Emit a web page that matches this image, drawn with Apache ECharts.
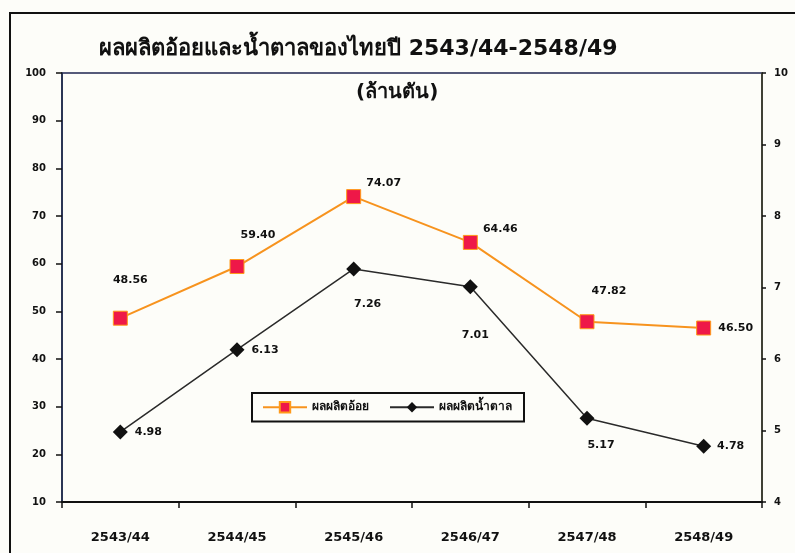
<!DOCTYPE html>
<html>
<head>
<meta charset="utf-8">
<script src="https://cdn.jsdelivr.net/npm/echarts@6/dist/echarts.min.js"></script>
<style>
  html, body { margin: 0; padding: 0; background: #fdfdf9; }
  #main { width: 795px; height: 553px; }
</style>
</head>
<body>
<div id="main"></div>
<script>
// ปีการผลิต
let years = ['2543/44', '2544/45', '2545/46', '2546/47', '2547/48', '2548/49'];
// ผลผลิตอ้อย (ล้านตัน) - แกนซ้าย
let caneValues = [48.56, 59.40, 74.07, 64.46, 47.82, 46.50];
// ผลผลิตน้ำตาล (ล้านตัน) - แกนขวา
let sugarValues = [4.98, 6.13, 7.26, 7.01, 5.17, 4.78];
let caneLabels = ['48.56', '59.40', '74.07', '64.46', '47.82', '46.50'];
let sugarLabels = ['4.98', '6.13', '7.26', '7.01', '5.17', '4.78'];

// ตำแหน่งป้ายตัวเลข (ระยะเลื่อนจากจุด)
let caneOffsets = [[10, -38], [21, -31], [30, -13], [30, -13], [22, -31], [32, 0]];
let sugarOffsets = [[28, 0], [28, 0], [14, 35], [5, 48], [14, 27], [27, 0]];

window.addEventListener('load', function() {
    let myChart = echarts.init(document.getElementById('main'));

    let labelFont = {
        fontFamily: 'DejaVu Sans',
        fontWeight: 'bold',
        fontSize: 11,
        color: '#111'
    };

    function buildData(values, labels, offsets) {
        return values.map(function(v, i) {
            return {
                value: v,
                label: {
                    show: true,
                    position: 'inside',
                    offset: offsets[i],
                    formatter: labels[i]
                }
            };
        });
    }

    let option = {
        backgroundColor: '#fdfdf9',
        animation: false,
        title: [{
            text: 'ผลผลิตอ้อยและน้ำตาลของไทยปี 2543/44-2548/49',
            left: 94,
            top: 33,
            textStyle: {
                fontFamily: 'DejaVu Sans',
                fontWeight: 'bold',
                fontSize: 22,
                color: '#111'
            }
        }, {
            text: '(ล้านตัน)',
            left: 351,
            top: 78,
            textStyle: {
                fontFamily: 'DejaVu Sans',
                fontWeight: 'bold',
                fontSize: 20,
                color: '#111'
            }
        }],
        graphic: [{
            type: 'rect',
            shape: { x: 10, y: 13, width: 820, height: 600 },
            style: { fill: 'none', stroke: '#111', lineWidth: 2 },
            silent: true
        }],
        legend: {
            left: 252,
            top: 393,
            orient: 'horizontal',
            borderColor: '#111',
            borderWidth: 2,
            padding: [8, 12, 8, 10],
            itemGap: 20,
            itemWidth: 44,
            itemHeight: 13,
            textStyle: {
                fontFamily: 'DejaVu Sans',
                fontWeight: 'bold',
                fontSize: 12,
                color: '#111'
            },
            data: ['ผลผลิตอ้อย', 'ผลผลิตน้ำตาล']
        },
        grid: {
            left: 62,
            right: 33,
            top: 73,
            bottom: 51,
            show: true,
            borderColor: '#1e2450',
            borderWidth: 1.5
        },
        xAxis: {
            type: 'category',
            data: years,
            boundaryGap: true,
            axisLine: { lineStyle: { color: '#111', width: 2 } },
            axisTick: { show: true, length: 6, lineStyle: { color: '#111', width: 1.5 } },
            axisLabel: {
                margin: 29,
                fontFamily: 'DejaVu Sans',
                fontWeight: 'bold',
                fontSize: 13,
                color: '#111'
            }
        },
        yAxis: [{
            type: 'value',
            min: 10,
            max: 100,
            interval: 10,
            position: 'left',
            axisLine: { show: true, lineStyle: { color: '#1e2a4a', width: 1.5 } },
            axisTick: { show: true, length: 6, lineStyle: { color: '#111', width: 1.5 } },
            splitLine: { show: false },
            axisLabel: {
                margin: 16,
                fontFamily: 'DejaVu Sans',
                fontWeight: 'bold',
                fontSize: 10,
                color: '#111'
            }
        }, {
            type: 'value',
            min: 4,
            max: 10,
            interval: 1,
            position: 'right',
            axisLine: { show: true, lineStyle: { color: '#3a3a20', width: 1.5 } },
            axisTick: { show: true, length: 4, lineStyle: { color: '#111', width: 1.5 } },
            splitLine: { show: false },
            axisLabel: {
                margin: 12,
                fontFamily: 'DejaVu Sans',
                fontWeight: 'bold',
                fontSize: 10,
                color: '#111'
            }
        }],
        series: [{
            name: 'ผลผลิตอ้อย',
            type: 'line',
            yAxisIndex: 0,
            symbol: 'rect',
            symbolSize: 14,
            lineStyle: { color: '#f7931e', width: 2 },
            itemStyle: { color: '#ee1848', borderColor: '#ff9a1a', borderWidth: 1 },
            label: labelFont,
            data: buildData(caneValues, caneLabels, caneOffsets)
        }, {
            name: 'ผลผลิตน้ำตาล',
            type: 'line',
            yAxisIndex: 1,
            symbol: 'diamond',
            symbolSize: 15,
            lineStyle: { color: '#2a2a2a', width: 1.5 },
            itemStyle: { color: '#111' },
            label: labelFont,
            data: buildData(sugarValues, sugarLabels, sugarOffsets)
        }]
    };

    myChart.setOption(option);
});
</script>
</body>
</html>
